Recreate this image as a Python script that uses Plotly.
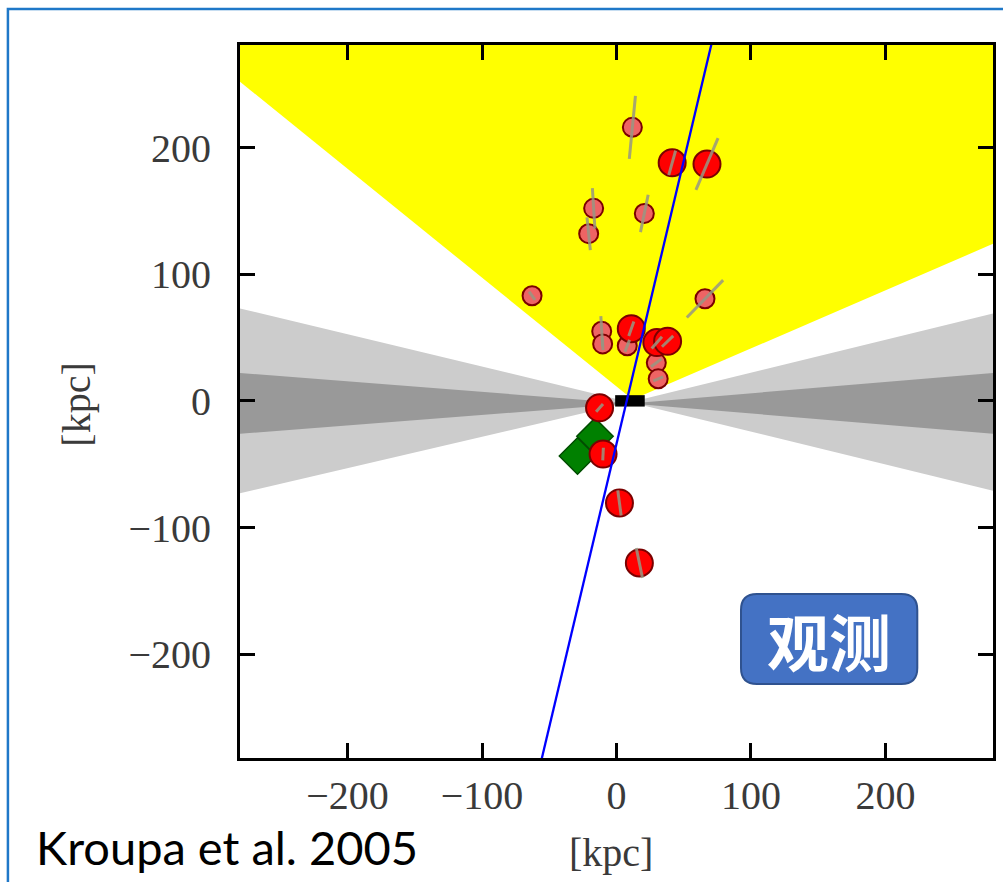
import plotly.graph_objects as go

# ---------------- data ----------------
# small (satellite) points with line-of-sight distance errors
small_x = [11.8, -17.0, -20.7, 20.7, -62.8, 65.8, -11.0, -10.3, 8.0, 29.6, 31.0]
small_y = [216, 152, 132, 148, 83, 80.6, 55, 45, 43.5, 30, 17.4]
small_err = [25, 16, 13, 15, 4, 20, 12, 5, 5, 5, 4]

# big red points
big_x = [41.4, 67.3, 11.0, 30.0, 38.0, -12.6, -10.0, 2.2, 17.0]
big_y = [188, 187, 57, 46, 47, -5.5, -42, -80.6, -128]
big_err = [10, 22, 6, 6, 6, 4, 5, 10, 12]

# green diamonds
green_x = [-16, -29]
green_y = [-28, -43.5]

# observer (Sun) position used for radial error directions
sun_x, sun_y = -8.0, 0.0

# yellow cone (polygon vertices)
cone_x = [12, -280, -280, 280, 280, 12]
cone_y = [1, 252, 300, 300, 124, 1]

# grey zones of avoidance (light: wide, dark: narrow)
light_left_x = [10, -280, -280, 10]
light_left_y = [-1, 73, -73, -1]
light_right_x = [10, 280, 280, 10]
light_right_y = [-1, 69, -71, -1]
dark_left_x = [10, -280, -280, 10]
dark_left_y = [-2, 22, -26, -2]
dark_right_x = [10, 280, 280, 10]
dark_right_y = [-2, 22, -26, -2]

# black disk bar
disk_x = [-1, 21]
disk_y = [-4.5, 4.5]

# blue line (best-fit plane, edge-on)
blue_x = [-59.5, 74.7]
blue_y = [-300, 300]

tick_vals = [-200, -100, 0, 100, 200]
x_range = [-280, 280]
y_range = [-282, 281]

# ---------------- helpers ----------------
def radial_bars(xs, ys, errs):
    bx, by = [], []
    for x, y, e in zip(xs, ys, errs):
        dx, dy = x - sun_x, y - sun_y
        d = (dx * dx + dy * dy) ** 0.5
        ux, uy = dx / d, dy / d
        bx += [x - ux * e, x + ux * e, None]
        by += [y - uy * e, y + uy * e, None]
    return bx, by

L, R, T, B = 240, 7, 45, 124
W, H = 1003, 882
PW, PH = W - L - R, H - T - B

def px(xp):
    return (xp - L) / PW

def py(yp):
    return (H - B - yp) / PH

fig = go.Figure()

def poly(xs, ys, color):
    fig.add_trace(go.Scatter(x=xs, y=ys, mode="lines", fill="toself",
                             fillcolor=color, line=dict(width=0, color=color),
                             hoverinfo="skip", showlegend=False))

poly(light_left_x, light_left_y, "#cccccc")
poly(light_right_x, light_right_y, "#cccccc")
poly(dark_left_x, dark_left_y, "#999999")
poly(dark_right_x, dark_right_y, "#999999")
poly(cone_x, cone_y, "#ffff00")

# disk bar
fig.add_trace(go.Scatter(x=[disk_x[0], disk_x[1], disk_x[1], disk_x[0], disk_x[0]],
                         y=[disk_y[0], disk_y[0], disk_y[1], disk_y[1], disk_y[0]],
                         mode="lines", fill="toself", fillcolor="black",
                         line=dict(width=0, color="black"), showlegend=False,
                         hoverinfo="skip"))

# markers
fig.add_trace(go.Scatter(x=green_x, y=green_y, mode="markers",
                         marker=dict(symbol="diamond", size=28, color="#008000",
                                     line=dict(color="#004d00", width=1.5)),
                         showlegend=False))
fig.add_trace(go.Scatter(x=small_x, y=small_y, mode="markers",
                         marker=dict(symbol="circle", size=19, color="#ee6464",
                                     line=dict(color="#7a0000", width=2)),
                         showlegend=False))
fig.add_trace(go.Scatter(x=big_x, y=big_y, mode="markers",
                         marker=dict(symbol="circle", size=27, color="#ff0000",
                                     line=dict(color="#7a0000", width=2)),
                         showlegend=False))

# error bars (radial)
sbx, sby = radial_bars(small_x, small_y, small_err)
bbx, bby = radial_bars(big_x, big_y, big_err)
fig.add_trace(go.Scatter(x=sbx + bbx, y=sby + bby, mode="lines",
                         line=dict(color="rgba(150,150,130,0.85)", width=3),
                         showlegend=False, hoverinfo="skip"))

# blue line
fig.add_trace(go.Scatter(x=blue_x, y=blue_y, mode="lines",
                         line=dict(color="#0000ff", width=2.3),
                         showlegend=False, hoverinfo="skip"))

axis_common = dict(showgrid=False, zeroline=False, showline=True, linewidth=3,
                   linecolor="black", mirror="ticks", ticks="inside", ticklen=15,
                   tickwidth=3, tickcolor="black", tickvals=tick_vals,
                   tickfont=dict(family="Liberation Serif", size=40, color="#3a3a3a"))

fig.update_layout(
    width=W, height=H,
    margin=dict(l=L, r=R, t=T, b=B, pad=0),
    paper_bgcolor="white", plot_bgcolor="white",
    xaxis=dict(range=x_range, ticklabelstandoff=0, **axis_common),
    yaxis=dict(range=y_range, ticklabelstandoff=18, **axis_common),
)

# outer blue frame
fig.add_shape(type="rect", xref="paper", yref="paper",
              x0=px(7), x1=px(1020), y0=py(900), y1=py(9),
              line=dict(color="#1f78c8", width=2.5), fillcolor="rgba(0,0,0,0)",
              layer="above")

# rounded label box
x0, x1, y0, y1, r = 743, 920, 594, 684, 16
pts = [("M", x0 + r, y0), ("L", x1 - r, y0), ("Q", x1, y0, x1, y0 + r),
       ("L", x1, y1 - r), ("Q", x1, y1, x1 - r, y1), ("L", x0 + r, y1),
       ("Q", x0, y1, x0, y1 - r), ("L", x0, y0 + r), ("Q", x0, y0, x0 + r, y0)]
path = ""
for p in pts:
    cmd = p[0]
    coords = p[1:]
    segs = []
    for i in range(0, len(coords), 2):
        segs.append(f"{px(coords[i]):.5f},{py(coords[i+1]):.5f}")
    path += cmd + " ".join(segs) + " "
path += "Z"
fig.add_shape(type="path", xref="paper", yref="paper", path=path,
              fillcolor="#4472c4", line=dict(color="#2f528f", width=2), layer="above")

fig.add_annotation(x=px(831), y=py(640), xref="paper", yref="paper",
                   xanchor="center", yanchor="middle",
                   text="<b>观测</b>", showarrow=False,
                   font=dict(family="Noto Sans CJK SC", size=62, color="white"))

# axis titles
fig.add_annotation(x=px(612), y=py(852), xref="paper", yref="paper", text="[kpc]",
                   showarrow=False, xanchor="center", yanchor="middle",
                   font=dict(family="Liberation Serif", size=40, color="#3a3a3a"))
fig.add_annotation(x=px(75), y=py(405), xref="paper", yref="paper", text="[kpc]",
                   showarrow=False, textangle=-90, xanchor="center", yanchor="middle",
                   font=dict(family="Liberation Serif", size=40, color="#3a3a3a"))

fig.add_annotation(x=px(33), y=py(847), xref="paper", yref="paper",
                   text="Kroupa et al. 2005", showarrow=False,
                   xanchor="left", yanchor="middle",
                   font=dict(family="Lato", size=47, color="black"))

fig.write_html("out.html")
